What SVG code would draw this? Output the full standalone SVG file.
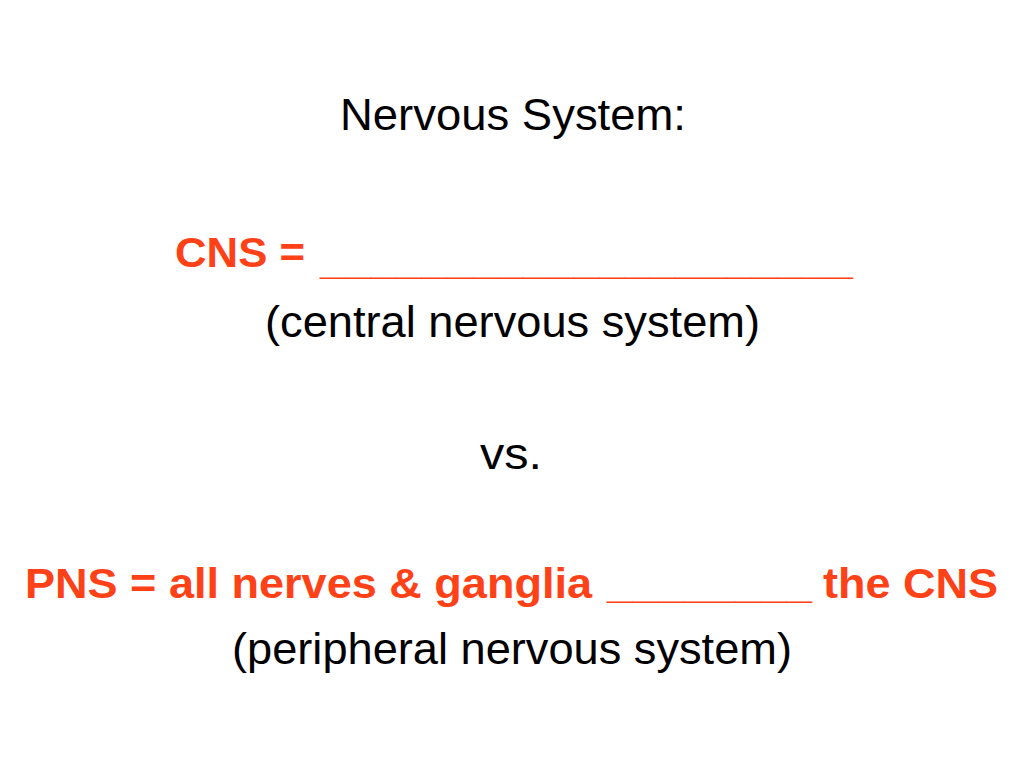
<svg xmlns="http://www.w3.org/2000/svg" width="1024" height="768" viewBox="0 0 1024 768">
<style>
.t{font-family:"Liberation Sans",Arial,sans-serif;font-size:45px;fill:#000}
.r{font-family:"Liberation Sans",Arial,sans-serif;font-size:43px;font-weight:bold;fill:#FF4117}
</style>
<rect width="1024" height="768" fill="#fff"/>
<g id="title"><text class="t" x="340" y="130" textLength="346" lengthAdjust="spacingAndGlyphs">Nervous System:</text></g>
<g id="cns"><text class="r" x="175" y="267"><tspan textLength="130" lengthAdjust="spacingAndGlyphs">CNS =</tspan><tspan x="320" dy="7" textLength="533" lengthAdjust="spacingAndGlyphs">_____________________</tspan></text></g>
<g id="cns-sub"><text class="t" x="265" y="337" textLength="495" lengthAdjust="spacingAndGlyphs">(central nervous system)</text></g>
<g id="vs"><text class="t" x="480" y="469" textLength="62" lengthAdjust="spacingAndGlyphs">vs.</text></g>
<g id="pns"><text class="r" x="25" y="598"><tspan textLength="567" lengthAdjust="spacingAndGlyphs">PNS = all nerves &amp; ganglia</tspan><tspan x="607" textLength="205" lengthAdjust="spacingAndGlyphs">________</tspan><tspan x="823" textLength="175" lengthAdjust="spacingAndGlyphs">the CNS</tspan></text></g>
<g id="pns-sub"><text class="t" x="232" y="664" textLength="560" lengthAdjust="spacingAndGlyphs">(peripheral nervous system)</text></g>
</svg>
